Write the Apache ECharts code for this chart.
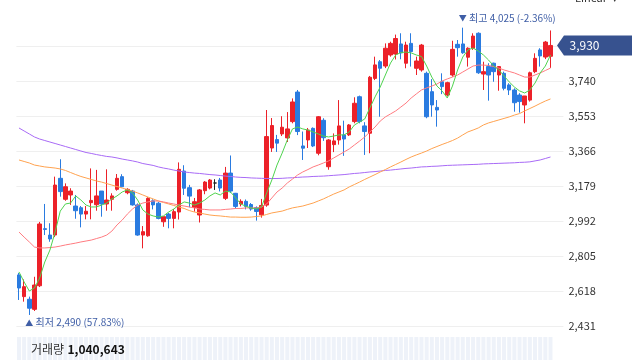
<!DOCTYPE html>
<html><head><meta charset="utf-8">
<script src="https://cdn.jsdelivr.net/npm/echarts@6/dist/echarts.min.js"></script>
<style>html,body{margin:0;padding:0;background:#fff}#c{width:640px;height:360px}</style>
</head><body><div id="c"></div>
<script>
const categories = Array.from({length: 106}, (_, i) => 'D' + (i + 1));
const yTicks = [2431, 2618, 2805, 2992, 3179, 3366, 3553, 3740, 3927, 4114];

const opens  = [2704,2588,2574,2520,2646,2951,2917,2917,3220,3108, 3131,3072,3063,3029,3090,3079,3152,3083,3108,3161,
  3229,3143,3152,3078,2917,2913,3100,3087,2988,3029, 3006,3040,3259,3170,3064,3024,3154,3168,3195,3211,
  3113,3248,3140,3083,3097,3080,3064,3025,3077,3382, 3427,3457,3436,3523,3681,3393,3425,3487,3354,3530,
  3282,3400,3425,3452,3452,3523,3656,3500,3461,3754, 3843,3820,3879,3884,3938,3835,3941,3808,3799,3781,
  3683,3599,3736,3665,3772,3936,3938,3867,3915,3995, 3777,3817,3835,3772,3781,3719,3692,3665,3612,3638,
  3790,3906,3868,3872];
const closes = [2634,2641,2526,2650,2976,2947,2896,3184,3149,3175, 3152,3047,3029,3044,3102,3126,3083,3104,3126,3220,
  3175,3161,3078,2917,2935,3113,3078,3006,3015,3006, 3042,3268,3167,3125,3095,3158,3200,3211,3195,3168,
  3248,3152,3070,3097,3070,3056,3043,3075,3443,3502, 3408,3493,3484,3628,3470,3381,3478,3393,3549,3437,
  3425,3420,3500,3430,3505,3621,3523,3470,3760,3826, 3808,3915,3941,3967,3890,3932,3897,3847,3932,3549,
  3612,3585,3710,3731,3909,3918,3891,3915,3980,3784, 3790,3772,3790,3817,3701,3692,3624,3630,3660,3784,
  3861,3874,3948,3930];
const lows   = [2570,2561,2490,2511,2639,2917,2881,2906,3122,3100, 3078,3004,2958,3001,3001,3047,3015,3047,3047,3154,
  3172,3135,3074,2913,2846,2908,3054,3001,2961,2953, 2953,3000,3131,3065,3042,2984,3135,3161,3158,3150,
  3104,3142,3058,3070,3054,3047,2994,3010,3068,3361, 3361,3446,3414,3514,3451,3318,3382,3387,3343,3420,
  3266,3360,3400,3340,3446,3514,3514,3345,3354,3745, 3549,3809,3870,3855,3856,3808,3817,3772,3790,3541,
  3549,3496,3670,3658,3763,3870,3885,3817,3906,3778, 3692,3635,3736,3688,3690,3665,3576,3571,3514,3630,
  3782,3817,3857,3810];
const highs  = [2714,2680,2588,2694,2987,3083,2980,3229,3322,3193, 3167,3131,3072,3072,3273,3265,3152,3268,3140,3243,
  3242,3167,3158,3086,2965,3119,3108,3094,3015,3036, 3056,3305,3290,3185,3115,3163,3205,3216,3215,3222,
  3281,3342,3142,3108,3107,3088,3070,3110,3585,3542, 3452,3552,3574,3647,3692,3470,3489,3492,3553,3541,
  3430,3460,3638,3528,3510,3653,3662,3520,3767,3870, 3852,3941,3950,3988,3995,3950,3995,3870,3938,3790,
  3750,3638,3781,3736,3955,3959,4025,3920,3995,4000, 3843,3835,3838,3820,3790,3728,3701,3675,3660,3790,
  3888,3915,3954,4010];
const volumes = [685210,742300,1123400,1356700,3120500,1845600,1102300,2450100,2013400,1254300,
  980200,876500,912300,754300,1320400,1102500,965400,1210300,784500,1056700,
  1154300,687400,843200,1432100,1287600,1876500,954300,1023400,812300,765400,
  854300,2145600,1532100,987600,765400,1345600,987600,876500,654300,765400,
  1123400,1456700,987600,654300,612300,587600,712300,798700,4123400,2345600,
  1456700,1234500,1543200,1876500,2012300,1345600,1123400,1234500,1765400,1345600,
  1456700,987600,1654300,1123400,987600,1567800,1432100,1234500,2876500,2134500,
  1765400,1654300,1345600,1456700,1234500,1345600,1298700,1087600,1456700,1987600,
  1543200,1234500,1098700,987600,1654300,1234500,1765400,1123400,1345600,1876500,
  1123400,1234500,876500,987600,1098700,876500,1123400,1012300,1345600,1456700,
  1234500,987600,1321400,1040643];
const ma5   = [2720,2666,2618,2634,2687,2773,2837,2933,3045,3083, 3088,3126,3104,3077,3067,3067,3077,3088,3110,3126,
  3147,3158,3142,3104,3051,3029,3019,3013,3019,3040, 3056,3077,3094,3088,3077,3088,3104,3126,3142,3131,
  3152,3147,3115,3083,3070,3062,3056,3067,3142,3211, 3291,3355,3425,3484,3494,3484,3478,3468,3457,3446,
  3441,3446,3452,3452,3468,3505,3521,3537,3596,3655, 3708,3772,3836,3879,3892,3895,3890,3879,3871,3820,
  3761,3713,3687,3649,3713,3799,3868,3906,3916,3900, 3879,3852,3820,3799,3767,3735,3708,3687,3676,3692,
  3729,3783,3820,3879];
const ma20  = [2933,2906,2880,2853,2848,2848,2850,2853,2858,2864, 2869,2874,2880,2885,2890,2898,2906,2917,2938,2971,
  2997,3029,3056,3077,3088,3094,3099,3099,3094,3088, 3083,3077,3072,3067,3062,3056,3054,3051,3051,3051,
  3054,3056,3059,3059,3062,3062,3062,3067,3083,3115, 3147,3168,3195,3216,3238,3254,3267,3281,3291,3302,
  3313,3329,3345,3361,3377,3398,3419,3441,3468,3494, 3526,3548,3564,3580,3601,3622,3649,3671,3692,3703,
  3713,3724,3740,3751,3761,3772,3788,3804,3820,3825, 3825,3823,3817,3809,3799,3791,3783,3772,3761,3761,
  3772,3783,3796,3809];
const ma60  = [3318,3310,3302,3291,3286,3281,3278,3275,3270,3262, 3251,3240,3230,3222,3214,3206,3200,3192,3184,3176,
  3168,3160,3152,3142,3131,3120,3110,3099,3091,3083, 3075,3067,3059,3048,3040,3035,3029,3024,3021,3019,
  3016,3013,3013,3012,3012,3013,3016,3019,3027,3035, 3040,3045,3054,3062,3067,3072,3080,3088,3099,3110,
  3123,3136,3147,3158,3174,3187,3200,3214,3227,3240, 3254,3267,3281,3294,3307,3321,3334,3345,3355,3366,
  3379,3390,3401,3411,3422,3435,3452,3468,3478,3489, 3505,3516,3524,3532,3540,3548,3558,3566,3580,3593,
  3606,3620,3633,3644];
const ma120 = [3489,3473,3457,3441,3430,3422,3414,3406,3398,3390, 3382,3374,3366,3358,3353,3347,3342,3337,3334,3329,
  3323,3318,3313,3307,3299,3294,3289,3281,3275,3270, 3264,3259,3254,3251,3248,3246,3243,3240,3238,3235,
  3232,3230,3227,3225,3224,3222,3221,3220,3219,3219, 3219,3220,3222,3223,3225,3227,3228,3230,3231,3232,
  3234,3236,3238,3240,3243,3246,3248,3251,3254,3256, 3259,3262,3264,3267,3270,3273,3275,3278,3281,3282,
  3284,3285,3287,3289,3290,3291,3292,3293,3294,3295, 3297,3298,3299,3300,3301,3302,3303,3305,3306,3308,
  3313,3318,3326,3334];

const FONT = '"Noto Sans CJK KR", "Noto Sans", sans-serif';
const fmt = v => Math.round(v).toLocaleString('en-US');
const N = opens.length;
const candleData = opens.map((o, i) => [o, closes[i], lows[i], highs[i]]);
const last = closes[N - 1];
let maxIdx = 0, minIdx = 0;
highs.forEach((h, i) => { if (h > highs[maxIdx]) maxIdx = i; });
lows.forEach((l, i) => { if (l < lows[minIdx]) minIdx = i; });
const maxV = highs[maxIdx], minV = lows[minIdx];
const pct = ref => ((last - ref) / ref * 100).toFixed(2) + '%';
const LBL = '#3f5ea6';

const chart = echarts.init(document.getElementById('c'));
const lineS = (data, color) => ({
  type: 'line', data, xAxisIndex: 0, yAxisIndex: 0, symbol: 'none', showSymbol: false,
  lineStyle: {width: 1, color}, itemStyle: {color}, silent: true, z: 3
});
chart.setOption({
  animation: false,
  textStyle: {fontFamily: FONT},
  grid: [
    {left: 16.4, right: 76.6, top: 11, height: 315},
    {left: 16.4, right: 76.6, top: 337, height: 100}
  ],
  xAxis: [
    {type: 'category', data: categories, gridIndex: 0, boundaryGap: true, show: false},
    {type: 'category', data: categories, gridIndex: 1, boundaryGap: true, show: false}
  ],
  yAxis: [
    {type: 'value', gridIndex: 0, position: 'right', min: yTicks[0], max: yTicks[yTicks.length - 1],
      interval: yTicks[1] - yTicks[0],
      axisLine: {show: false}, axisTick: {show: false},
      axisLabel: {showMaxLabel: false, margin: 5, fontSize: 11, color: '#333', fontFamily: FONT, formatter: v => fmt(v)},
      splitLine: {show: true, showMaxLine: false, lineStyle: {color: '#efefef', width: 1}}},
    {type: 'value', gridIndex: 1, min: 0, max: e => e.min, show: false}
  ],
  graphic: [
    {type: 'text', left: 31, top: 343, z: 100, zlevel: 1, style: {
      text: '{a|거래량} {b|' + fmt(volumes[N - 1]) + '}',
      rich: {a: {fontSize: 12, fill: '#333', fontFamily: FONT}, b: {fontSize: 12, fontWeight: 'bold', fill: '#111', fontFamily: FONT}}
    }},
    {type: 'text', right: 22, top: -8, z: 100, zlevel: 1, style: {text: 'Linear  ▾', fontSize: 11, fill: '#333', fontFamily: FONT}}
  ],
  series: [
    {type: 'bar', xAxisIndex: 1, yAxisIndex: 1, data: volumes, barWidth: 4, silent: true,
      itemStyle: {color: '#eef2f9'}},
    {type: 'candlestick', xAxisIndex: 0, yAxisIndex: 0, data: candleData, barWidth: 4, silent: true,
      itemStyle: {color: '#ec2129', color0: '#2a7be0', borderColor: '#ec2129', borderColor0: '#2a7be0',
        borderColorDoji: '#222', borderWidth: 1},
      markPoint: {
        silent: true, animation: false, symbol: 'circle', symbolSize: 1,
        itemStyle: {color: 'rgba(0,0,0,0)'},
        data: [
          {coord: [maxIdx, maxV], label: {show: true, position: [-3.5, -14], align: 'left', verticalAlign: 'top',
            formatter: '{t|▼} 최고 ' + fmt(maxV) + ' (' + pct(maxV) + ')', color: LBL, fontSize: 10, fontFamily: FONT,
            rich: {t: {fontSize: 8, color: LBL}}}},
          {coord: [minIdx, minV], label: {show: true, position: [-3.5, 3], align: 'left', verticalAlign: 'top',
            formatter: '{t|▲} 최저 ' + fmt(minV) + ' (' + pct(minV) + ')', color: LBL, fontSize: 10, fontFamily: FONT,
            rich: {t: {fontSize: 8, color: LBL}}}},
          {coord: [N - 1, last], symbol: 'path://M0,10 L7,0 L75,0 L75,20 L7,20 Z', symbolSize: [75, 20],
            symbolKeepAspect: false, symbolOffset: [44, 0], itemStyle: {color: '#37528f'},
            label: {show: true, position: 'inside', offset: [-10, 0], color: '#fff', fontSize: 12, fontFamily: FONT,
              formatter: fmt(last)}}
        ]
      }},
    lineS(ma120, '#a86af6'),
    lineS(ma60, '#ffa24f'),
    lineS(ma20, '#ff7b80'),
    lineS(ma5, '#4fd34f')
  ]
});
</script>
</body></html>
